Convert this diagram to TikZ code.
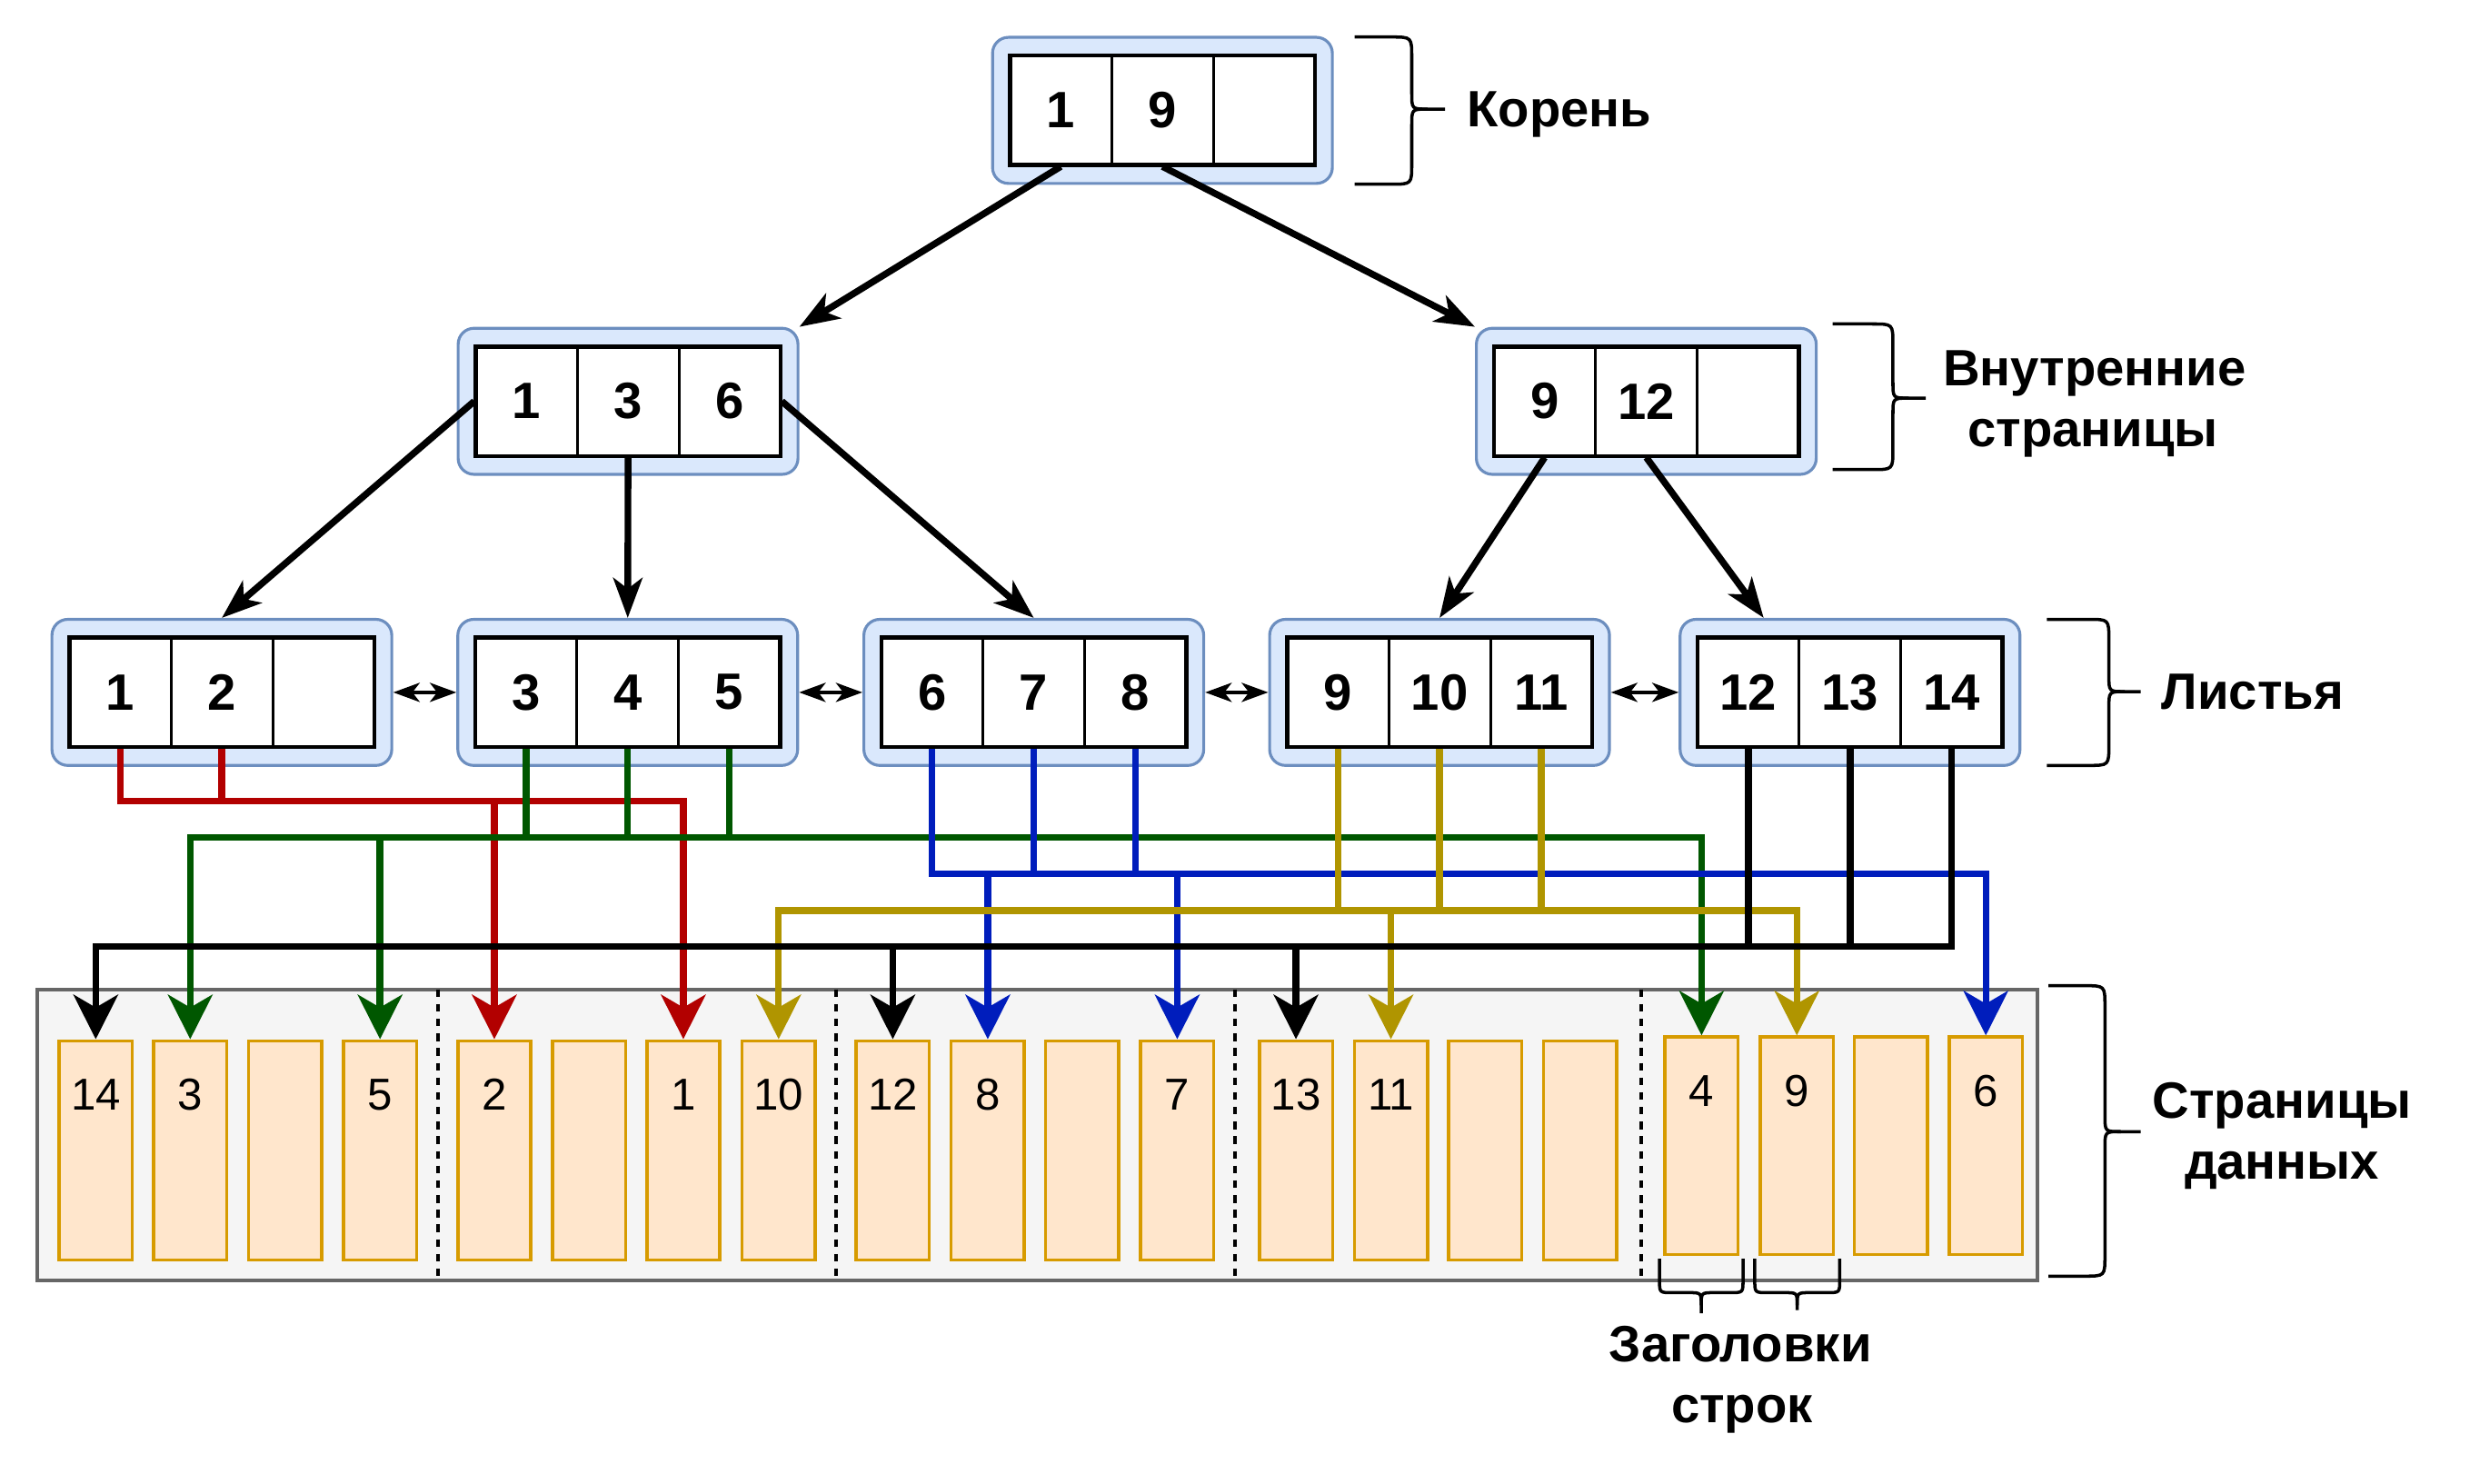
\documentclass[tikz,border=0pt]{standalone}
\usepackage{fontspec}
\setmainfont{Liberation Sans}
\usetikzlibrary{arrows.meta,calc}
\definecolor{nodefill}{HTML}{DAE8FC}
\definecolor{nodedraw}{HTML}{6C8EBF}
\definecolor{datafill}{HTML}{F5F5F5}
\definecolor{datadraw}{HTML}{666666}
\definecolor{slotfill}{HTML}{FFE6CC}
\definecolor{slotdraw}{HTML}{D79B00}
\definecolor{cred}{HTML}{B20000}
\definecolor{cgreen}{HTML}{005700}
\definecolor{cblue}{HTML}{001DBC}
\definecolor{colive}{HTML}{B09500}
\def\U{0.017474cm}
\newcommand\btnode[6]{%
  \node[outerbox] (#1) at (#2,#3) {};
  \node[cell] (#1-1) at (#2-64,#3) {#4};
  \node[cell] (#1-2) at (#2,#3) {#5};
  \node[cell] (#1-3) at (#2+64,#3) {#6};
  \node[cellframe] (#1-in) at (#2,#3) {};
}
% right-pointing brace: left x, spine x, tip x, top y, mid y, bottom y
\newcommand\bracer[6]{%
  \draw[bracestroke] (#1,#4) -- (#2-13,#4) .. controls (#2,#4) .. (#2,#4+13)
     -- (#2,#5-10) .. controls (#2,#5) .. (#2+10,#5) -- (#3,#5);
  \draw[bracestroke] (#1,#6) -- (#2-13,#6) .. controls (#2,#6) .. (#2,#6-13)
     -- (#2,#5+10) .. controls (#2,#5) .. (#2+10,#5);
}
% downward brace: left x, right x, centre x, top y, spine y, tip y
\newcommand\braced[6]{%
  \draw[bracestroke] (#1,#4) -- (#1,#5-8) .. controls (#1,#5) .. (#1+8,#5)
     -- (#3-8,#5) .. controls (#3,#5) .. (#3,#5+8) -- (#3,#6);
  \draw[bracestroke] (#2,#4) -- (#2,#5-8) .. controls (#2,#5) .. (#2-8,#5)
     -- (#3+8,#5) .. controls (#3,#5) .. (#3,#5+8);
}
\begin{document}
\begin{tikzpicture}[x=\U, y=-\U,
  outerbox/.style={draw=nodedraw, fill=nodefill, line width=0.9pt, rounded corners=0.175cm,
    minimum width=214*\U, minimum height=92*\U, inner sep=0pt},
  cell/.style={draw=black, fill=white, line width=0.85pt, minimum width=64*\U,
    minimum height=69*\U, inner sep=0pt, font=\fontsize{16}{19}\selectfont\bfseries},
  cellframe/.style={draw=black, line width=1.3pt, minimum width=192*\U, minimum height=69*\U, inner sep=0pt},
  databox/.style={draw=datadraw, fill=datafill, line width=1.1pt, minimum width=1259.5*\U,
    minimum height=183.5*\U, inner sep=0pt},
  pagesep/.style={draw=black, line width=1.2pt, dash pattern=on 2.4pt off 2.2pt},
  slot/.style={draw=slotdraw, fill=slotfill, line width=1pt, minimum width=46*\U,
    minimum height=138*\U, inner sep=0pt},
  slotnum/.style={anchor=center, yshift=-35*\U, inner sep=0pt, font=\fontsize{14}{17}\selectfont},
  lbl/.style={anchor=base, inner sep=0pt, font=\fontsize{16}{19}\selectfont\bfseries},
  bracestroke/.style={draw=black, line width=1pt},
  tree/.style={draw=black, line width=2.1pt, -{Stealth[length=12.5pt,width=9.1pt,inset=3.4pt]}},
  dbl/.style={draw=black, line width=1.1pt,
    {Stealth[length=8.3pt,width=6pt,inset=2.3pt]}-{Stealth[length=8.3pt,width=6pt,inset=2.3pt]}},
  conn/.style={draw=#1, line width=2.1pt, -{Stealth[length=13.9pt,width=13.9pt,inset=4pt]}}
]
\useasboundingbox (0,0) rectangle (1568,934);

% ---------- data pages ----------
\node[databox] (data) at (653.25,714.75) {};
\foreach \xx in {276,526.5,777.6,1033.6} \draw[pagesep] (\xx,623) -- (\xx,806.5);

\node[slot, label={[slotnum]north:14}] (d1) at (60.3,724.4) {};
\node[slot, label={[slotnum]north:3}] (d2) at (119.8,724.4) {};
\node[slot] (d3) at (179.5,724.4) {};
\node[slot, label={[slotnum]north:5}] (d4) at (239.3,724.4) {};
\node[slot, label={[slotnum]north:2}] (d5) at (311.3,724.4) {};
\node[slot] (d6) at (371,724.4) {};
\node[slot, label={[slotnum]north:1}] (d7) at (430.3,724.4) {};
\node[slot, label={[slotnum]north:10}] (d8) at (490.3,724.4) {};
\node[slot, label={[slotnum]north:12}] (d9) at (562.2,724.4) {};
\node[slot, label={[slotnum]north:8}] (d10) at (622,724.4) {};
\node[slot] (d11) at (681.4,724.4) {};
\node[slot, label={[slotnum]north:7}] (d12) at (741.3,724.4) {};
\node[slot, label={[slotnum]north:13}] (d13) at (816.1,724.4) {};
\node[slot, label={[slotnum]north:11}] (d14) at (875.9,724.4) {};
\node[slot] (d15) at (935.3,724.4) {};
\node[slot] (d16) at (995,724.4) {};
\node[slot, minimum height=137*\U, label={[slotnum]north:4}] (d17) at (1071.5,721.5) {};
\node[slot, minimum height=137*\U, label={[slotnum]north:9}] (d18) at (1131.5,721.5) {};
\node[slot, minimum height=137*\U] (d19) at (1190.7,721.5) {};
\node[slot, minimum height=137*\U, label={[slotnum]north:6}] (d20) at (1250.5,721.5) {};

% ---------- tree ----------
\btnode{root}{732}{69.5}{1}{9}{}
\btnode{iL}{395.5}{252.7}{1}{3}{6}
\btnode{iR}{1036.7}{252.7}{9}{12}{}
\btnode{lf1}{139.7}{436}{1}{2}{}
\btnode{lf2}{395.3}{436}{3}{4}{5}
\btnode{lf3}{651}{436}{6}{7}{8}
\btnode{lf4}{906.5}{436}{9}{10}{11}
\btnode{lf5}{1165}{436}{12}{13}{14}

\draw[dbl] (lf1) -- (lf2);
\draw[dbl] (lf2) -- (lf3);
\draw[dbl] (lf3) -- (lf4);
\draw[dbl] (lf4) -- (lf5);

\draw[tree] (root-1.south) -- (iL.north east);
\draw[tree] (root-2.south) -- (iR.north west);
\draw[tree] (iL-1.west) -- (lf1.north);
\draw[tree] (iL-2.south) -- (lf2.north);
\draw[tree] (iL-3.east) -- (lf3.north);
\draw[tree] (iR-1.south) -- (lf4.north);
\draw[tree] (iR-2.south) -- ($(lf5.north west)+(53.5,0)$);

% ---------- leaf -> row connectors ----------
\draw[conn=cred] (lf1-1.south) -- (lf1-1.south |- 0,504.6) -| (d7.north);
\draw[conn=cred] (lf1-2.south) -- (lf1-2.south |- 0,504.6) -| (d5.north);
\draw[conn=cgreen] (lf2-1.south) -- (lf2-1.south |- 0,527.5) -| (d2.north);
\draw[conn=cgreen] (lf2-2.south) -- (lf2-2.south |- 0,527.5) -| (d17.north);
\draw[conn=cgreen] (lf2-3.south) -- (lf2-3.south |- 0,527.5) -| (d4.north);
\draw[conn=cblue] (lf3-1.south) -- (lf3-1.south |- 0,550.3) -| (d20.north);
\draw[conn=cblue] (lf3-2.south) -- (lf3-2.south |- 0,550.3) -| (d12.north);
\draw[conn=cblue] (lf3-3.south) -- (lf3-3.south |- 0,550.3) -| (d10.north);
\draw[conn=colive] (lf4-1.south) -- (lf4-1.south |- 0,573.4) -| (d18.north);
\draw[conn=colive] (lf4-2.south) -- (lf4-2.south |- 0,573.4) -| (d8.north);
\draw[conn=colive] (lf4-3.south) -- (lf4-3.south |- 0,573.4) -| (d14.north);
\draw[conn=black] (lf5-1.south) -- (lf5-1.south |- 0,596.1) -| (d9.north);
\draw[conn=black] (lf5-2.south) -- (lf5-2.south |- 0,596.1) -| (d13.north);
\draw[conn=black] (lf5-3.south) -- (lf5-3.south |- 0,596.1) -| (d1.north);

% ---------- braces ----------
\bracer{853}{889}{910}{23.3}{68.7}{116}
\bracer{1154}{1192}{1212.7}{204}{250.7}{295.7}
\bracer{1289}{1328}{1348}{390}{435.5}{482}
\bracer{1290}{1325.5}{1348}{620.7}{712.6}{803.6}
\braced{1045}{1097.6}{1071.3}{792.6}{814}{827}
\braced{1105}{1158.5}{1131.7}{792.6}{814}{825}

% ---------- labels ----------
\node[lbl] (tRoot) at (982,80.1) {Корень};
\node[lbl] (tInnerA) at (1319,243.2) {Внутренние};
\node[lbl] (tInnerB) at (1318,281.4) {страницы};
\node[lbl] (tLeaf) at (1418.6,446.4) {Листья};
\node[lbl] (tDataA) at (1437,704) {Страницы};
\node[lbl] (tDataB) at (1437,742.3) {данных};
\node[lbl] (tHeadA) at (1096,857.3) {Заголовки};
\node[lbl] (tHeadB) at (1097,895.6) {строк};
\end{tikzpicture}
\end{document}
